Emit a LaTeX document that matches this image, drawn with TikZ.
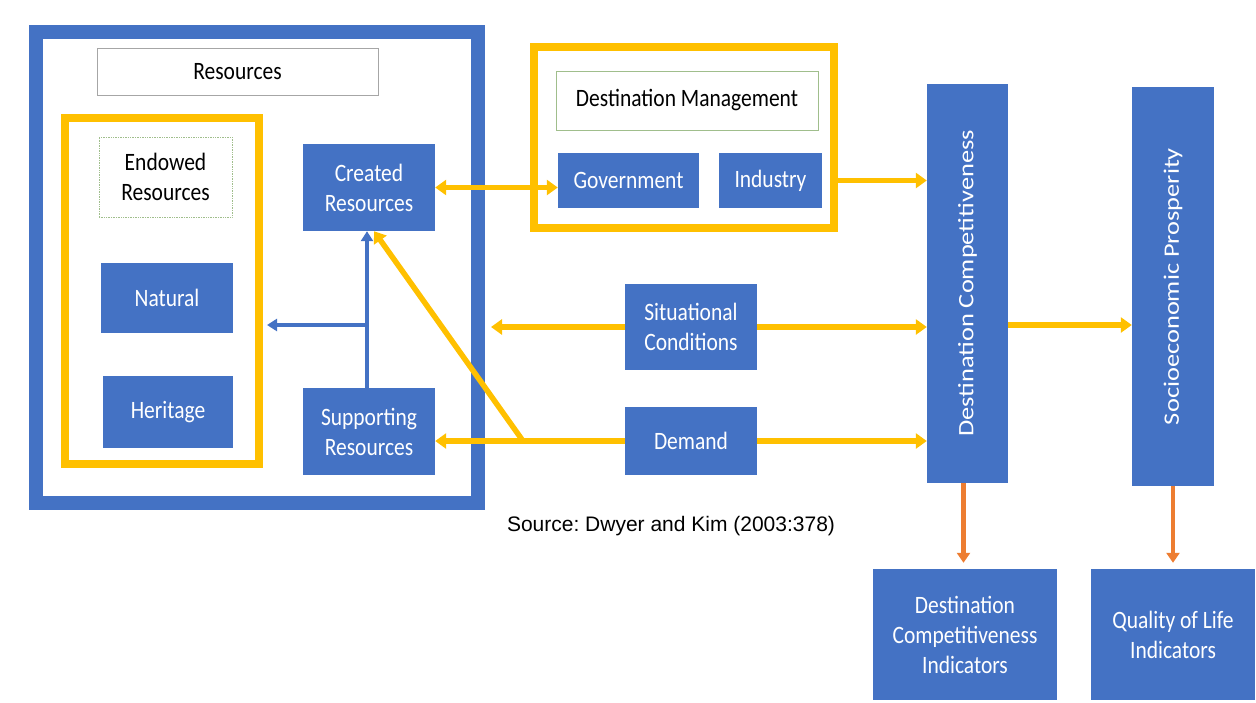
\documentclass[tikz,border=0pt]{standalone}
\usepackage{fontspec}
\setmainfont{Carlito}[FakeStretch=0.86]
\newfontfamily\tallfont{Carlito}[FakeStretch=1.2]
\newfontfamily\srcfont{Liberation Sans}
\usetikzlibrary{arrows.meta}
\definecolor{boxblue}{HTML}{4472C4}
\definecolor{lineyellow}{HTML}{FFC000}
\definecolor{lineorange}{HTML}{ED7D31}
\definecolor{thingreen}{RGB}{160,190,140}
\frenchspacing
\begin{document}
\begin{tikzpicture}[x=1pt, y=-1pt, line join=miter, >={Triangle[length=11pt,width=15pt]},
	font=\fontsize{25}{30}\selectfont,
	bbox/.style={fill=boxblue, text=white, inner sep=0pt, align=center},
	lbox/.style={draw=thingreen, line width=0.7pt, fill=white, inner sep=0pt, align=center},
	yarrow/.style={draw=lineyellow, line width=5.5pt},
	barrow/.style={draw=boxblue, line width=4pt, >={Triangle[length=10pt,width=12pt]}},
	oarrow/.style={draw=lineorange, line width=4.5pt, >={Triangle[length=10pt,width=13pt]}}]
					\useasboundingbox (0,0) rectangle (1256,702);
					\node[draw=boxblue, line width=14pt, minimum width=442pt, minimum height=471pt] (resframe) at (257,267.5) {};
					\node[draw=lineyellow, line width=8pt, minimum width=194pt, minimum height=346pt] (endframe) at (162,291) {};
					\node[draw=lineyellow, line width=8pt, minimum width=300pt, minimum height=181pt] (dmframe) at (684,137.5) {};
					\node[lbox, draw=black!35, minimum width=281pt, minimum height=47pt] (res) at (237.5,71.5) {Resources};
					\node[lbox, densely dotted, minimum width=133pt, minimum height=80pt] (endowed) at (165.5,177) {Endowed\\Resources};
					\node[bbox, minimum width=132pt, minimum height=87pt] (created) at (369,187.5) {Created\\Resources};
					\node[bbox, minimum width=132pt, minimum height=70pt] (natural) at (167,298) {Natural};
					\node[bbox, minimum width=130pt, minimum height=72pt] (heritage) at (168,412) {Heritage};
					\node[bbox, minimum width=132pt, minimum height=87pt] (support) at (369,431.5) {Supporting\\Resources};
					\node[lbox, minimum width=262pt, minimum height=59pt] (dm) at (687,100.5) {Destination Management};
					\node[bbox, minimum width=141pt, minimum height=55pt] (gov) at (628.5,180.5) {Government};
					\node[bbox, minimum width=103pt, minimum height=55pt] (ind) at (770.5,180.5) {Industry};
					\node[bbox, minimum width=132pt, minimum height=86pt] (sit) at (691,327) {Situational\\Conditions};
					\node[bbox, minimum width=132pt, minimum height=68pt] (dem) at (691,441) {Demand};
					\node[bbox, minimum width=81pt, minimum height=399pt] (dc) at (967.5,283.5) {};
					\node[text=white, rotate=90, font=\tallfont\fontsize{22}{26}\selectfont] (dctext) at (dc) {Destination Competitiveness};
					\node[bbox, minimum width=82pt, minimum height=399pt] (sp) at (1173,286.5) {};
					\node[text=white, rotate=90, font=\tallfont\fontsize{22}{26}\selectfont] (sptext) at (sp) {Socioeconomic Prosperity};
					\node[bbox, minimum width=184pt, minimum height=131pt] (dci) at (965,634.5) {Destination\\Competitiveness\\Indicators};
					\node[bbox, minimum width=164pt, minimum height=131pt] (qol) at (1173,634.5) {Quality of Life\\Indicators};
					\node[font=\srcfont\fontsize{21}{25}\selectfont] (src) at (671,526) {Source: Dwyer and Kim (2003:378)};
					\coordinate (dj) at (523,441);
					\coordinate (bj) at (367,325);
					\draw[yarrow, <->] (created.east) -- (created.east -| gov.west);
					\draw[yarrow, ->] (ind.east -| dmframe.east) -- (ind.east -| dc.west);
					\draw[yarrow, ->] (sit.west) -- ([xshift=6pt]sit.west -| resframe.east);
					\draw[yarrow, ->] (sit.east) -- (sit.east -| dc.west);
					\draw[yarrow, ->] (dem.west) -- (dem.west -| support.east);
					\draw[yarrow, ->] (dem.east) -- (dem.east -| dc.west);
					\draw[yarrow, ->] (dj) -- ([xshift=5pt]created.south);
					\draw[yarrow, ->] (dc.east |- bj) -- (bj -| sp.west);
					\draw[barrow, ->] ([xshift=-2pt]support.north) -- ([xshift=-2pt]created.south);
					\draw[barrow, ->] (bj) -- ([xshift=4pt]bj -| endframe.east);
					\draw[oarrow, ->, shorten >=6pt] ([xshift=-4pt]dc.south) -- ([xshift=-4pt]dc.south |- dci.north);
					\draw[oarrow, ->, shorten >=6pt] (sp.south) -- (qol.north);
				\end{tikzpicture}
\end{document}
